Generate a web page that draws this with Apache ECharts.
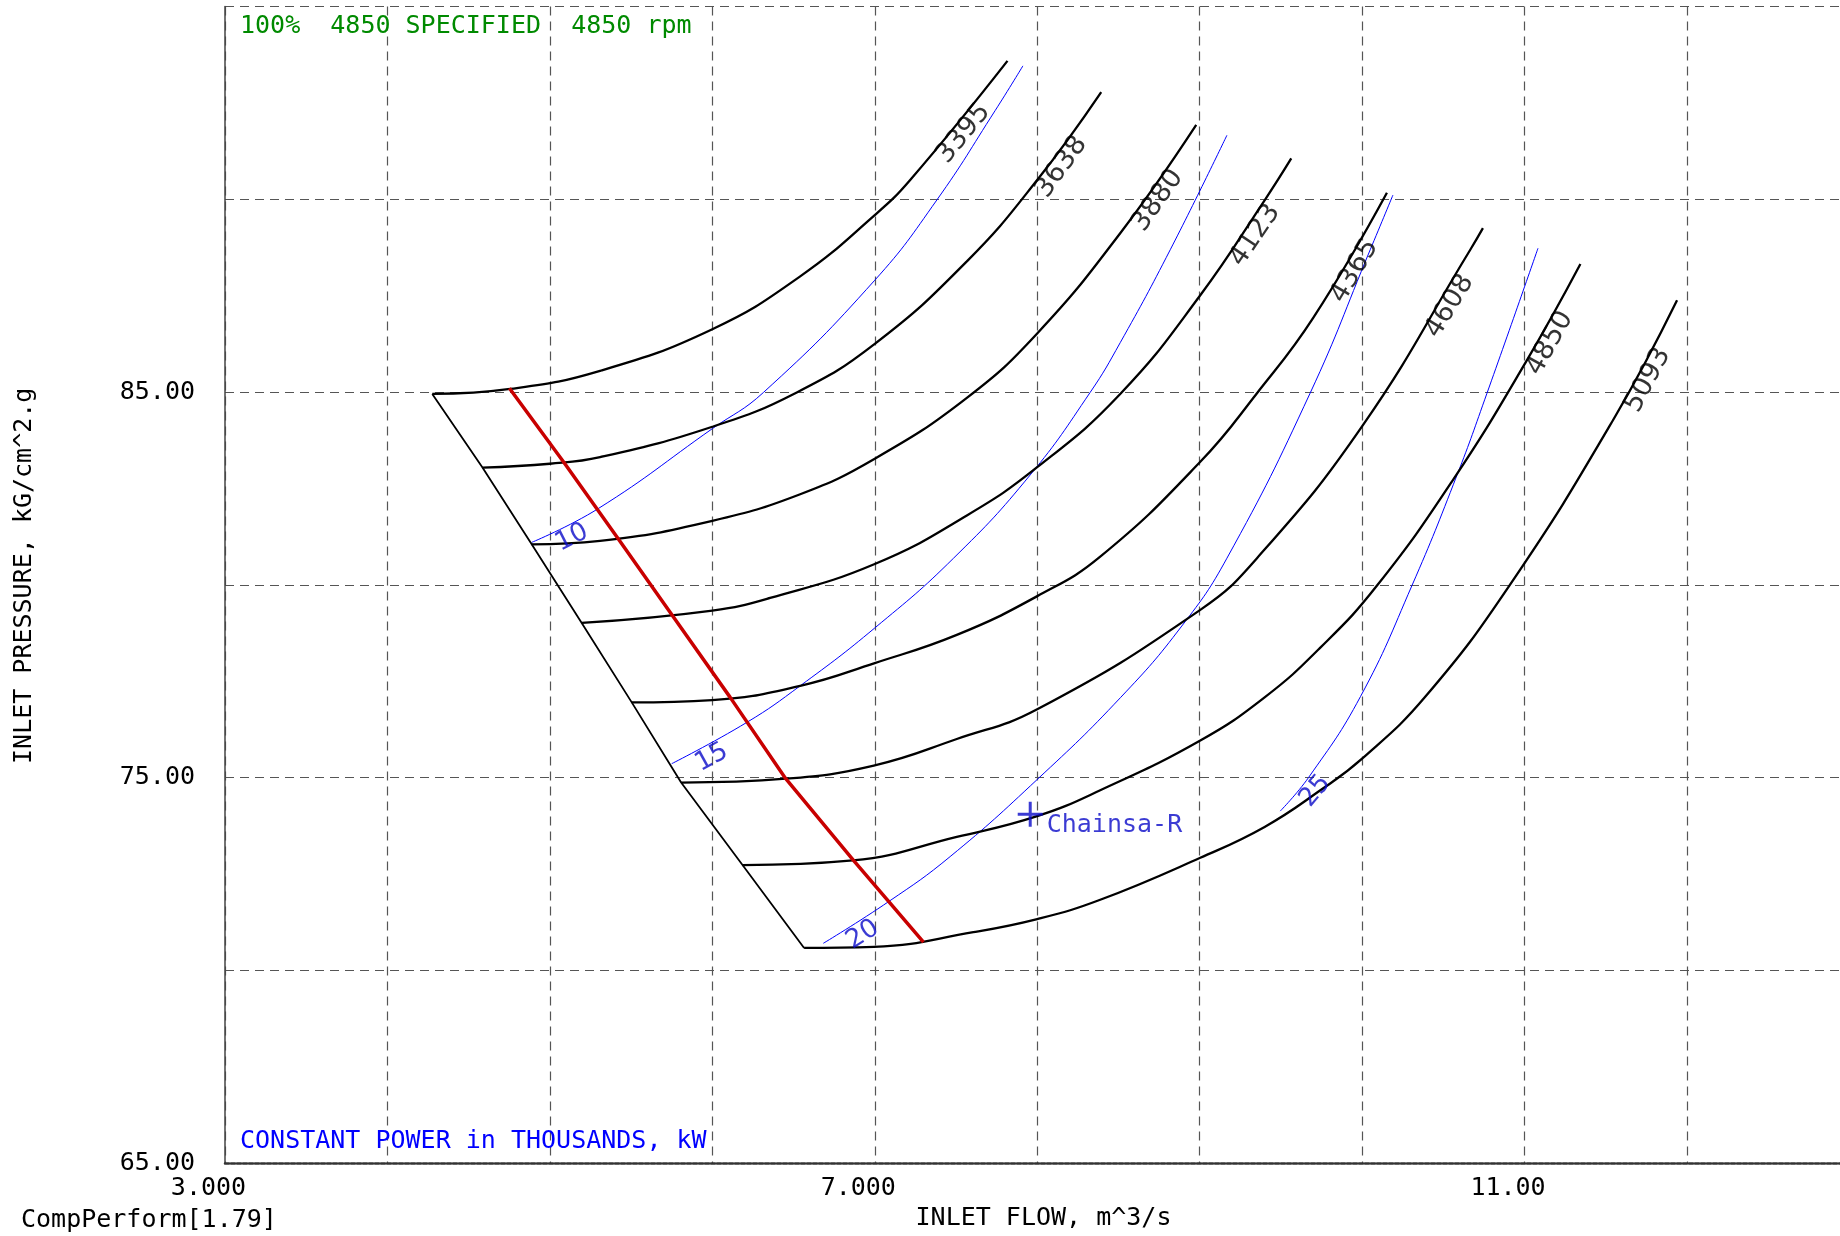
<!DOCTYPE html>
<html>
<head>
<meta charset="utf-8">
<title>CompPerform</title>
<script src="https://cdn.jsdelivr.net/npm/echarts@6/dist/echarts.min.js"></script>
<style>
  html, body { margin: 0; padding: 0; background: #ffffff; }
  #chart { width: 1840px; height: 1236px; }
</style>
</head>
<body>
<div id="chart"></div>
<script>
// Compressor performance map: inlet flow (m^3/s) vs inlet pressure (kG/cm^2.g)

// Constant speed lines (rpm), each as [flow, pressure]
const speedNames = ['3395', '3638', '3880', '4123', '4365', '4608', '4850', '5093'];
const speed3395 = [[4.276,84.95],[4.756,85.08],[5.309,85.55],[6.0,86.63],[6.541,88.0],[7.0,89.59],[7.218,90.5],[7.817,93.59]];
const speed3638 = [[4.585,83.04],[5.0,83.14],[5.309,83.31],[6.0,84.1],[6.52,84.99],[7.0,86.25],[7.567,88.39],[8.0,90.5],[8.394,92.78]];
const speed3880 = [[4.888,81.05],[5.309,81.14],[6.0,81.66],[6.541,82.35],[7.0,83.27],[7.567,84.85],[8.0,86.52],[8.511,89.12],[8.979,91.93]];
const speed4123 = [[5.196,79.01],[6.0,79.33],[6.356,79.66],[7.0,80.54],[7.567,81.8],[8.0,83.05],[8.511,84.95],[9.004,87.51],[9.404,90.0],[9.564,91.06]];
const speed4365 = [[5.504,76.95],[6.0,77.01],[6.541,77.38],[7.0,77.97],[7.505,78.7],[7.998,79.7],[8.388,80.73],[9.004,83.19],[9.353,84.97],[9.7,86.93],[10.153,90.17]];
const speed4608 = [[5.808,74.87],[6.452,74.97],[6.994,75.31],[7.505,76.0],[8.0,76.77],[9.004,79.35],[9.353,80.69],[10.003,84.13],[10.666,88.69],[10.744,89.25]];
const speed4850 = [[6.186,72.73],[6.865,72.85],[7.505,73.46],[8.0,74.0],[8.388,74.67],[9.004,75.96],[9.4,77.08],[9.743,78.37],[10.092,79.98],[10.564,82.75],[11.007,85.77],[11.344,88.32]];
const speed5093 = [[6.565,70.58],[6.994,70.61],[7.607,70.99],[8.0,71.33],[8.388,71.83],[9.004,72.92],[9.4,73.72],[9.743,74.67],[10.0,75.49],[10.39,77.1],[10.91,80.0],[11.549,84.3],[11.939,87.38]];
const speedLines = [speed3395, speed3638, speed3880, speed4123, speed4365, speed4608, speed4850, speed5093];

// Surge limit, joining the low-flow ends of the speed lines
const surgeLine = [[4.276,84.95],[4.585,83.04],[4.888,81.05],[5.196,79.01],[5.504,76.95],[5.808,74.87],[6.186,72.73],[6.565,70.58]];

// Control line (red)
const controlLine = [[4.751,85.1],[5.089,83.16],[5.426,81.16],[5.765,79.14],[6.11,77.08],[6.452,74.97],[6.869,72.85],[7.3,70.73]];

// Constant power lines, thousands of kW
const powerNames = ['10', '15', '20', '25'];
const power10 = [[4.888,81.1],[5.299,81.98],[6.0,84.05],[6.315,84.99],[7.0,87.9],[7.382,89.98],[7.741,92.3],[7.912,93.46]];
const power15 = [[5.75,75.36],[6.212,76.43],[6.541,77.38],[7.0,78.88],[7.485,80.69],[7.957,82.85],[8.326,84.99],[8.511,86.28],[8.819,88.69],[9.168,91.66]];
const power20 = [[6.683,70.7],[7.088,71.79],[7.464,72.95],[8.0,74.95],[8.514,77.08],[8.89,78.93],[9.168,80.69],[9.68,84.97],[10.05,88.69],[10.19,90.11]];
const power25 = [[9.496,74.13],[9.672,75.01],[9.99,77.1],[10.307,79.98],[10.584,82.84],[10.769,84.97],[11.083,88.73]];
const powerLines = [power10, power15, power20, power25];

// Rated operating point
const ratedPoint = [7.957, 74.05];
const ratedName = 'Chainsa-R';

// Labelled ticks
const xTickLabels = [3, 7, 11];
const yTickLabels = [65, 75, 85];

const MONO = '"DejaVu Sans Mono", "Liberation Mono", monospace';
const SANS = '"DejaVu Sans", "Noto Sans", sans-serif';
const BLUE = '#0000ff';
const DARK_BLUE = '#0a0ac8';

const chart = echarts.init(document.getElementById('chart'), null, { renderer: 'canvas' });

const gridDash = { color: '#555555', width: 1.2, type: [9, 6] };

function fmtX(v) {
  return v < 10 ? v.toFixed(3) : v.toFixed(2);
}
function isTick(list, v) {
  return list.some(t => Math.abs(t - v) < 1e-6);
}

const series = [];
speedLines.forEach((pts, i) => {
  series.push({
    name: speedNames[i] + ' rpm', type: 'line', data: pts, smooth: 0.45,
    symbol: 'none', lineStyle: { color: '#000000', width: 2.3 }, z: 3
  });
});
series.push({
  name: 'surge', type: 'line', data: surgeLine, symbol: 'none',
  lineStyle: { color: '#000000', width: 1.8 }, z: 3
});
powerLines.forEach((pts, i) => {
  series.push({
    name: powerNames[i] + ' MW', type: 'line', data: pts, smooth: 0.45,
    symbol: 'none', lineStyle: { color: BLUE, width: 1 }, z: 2
  });
});
series.push({
  name: 'control', type: 'line', data: controlLine, symbol: 'none',
  lineStyle: { color: '#c80000', width: 3.5 }, z: 4
});
series.push({
  name: ratedName, type: 'scatter', data: [ratedPoint],
  symbol: 'path://M11,0 h3 v25 h-3 z M0,11 h25 v3 h-25 z', symbolSize: 25,
  itemStyle: { color: DARK_BLUE },
  label: {
    show: true, position: 'right', distance: 4, offset: [0, 11],
    formatter: ratedName, fontFamily: MONO, fontSize: 25, color: DARK_BLUE
  }, z: 5
});
series.push({
  id: 'speedLabels', type: 'scatter', symbolSize: 0, data: [], silent: true, z: 6,
  label: { show: true, position: 'inside', fontFamily: SANS, fontSize: 27, color: '#000000' }
});
series.push({
  id: 'powerLabels', type: 'scatter', symbolSize: 0, data: [], silent: true, z: 6,
  label: { show: true, position: 'inside', fontFamily: SANS, fontSize: 26, color: DARK_BLUE }
});

// plot spans 162.44 px per unit of flow, clipped by the right edge of the page
const X_MAX = 3 + 1615 / 162.44;

const option = {
  animation: false,
  backgroundColor: '#ffffff',
  grid: { left: 225, top: 6.5, right: 0, height: 1161 },
  xAxis: {
    type: 'value', min: 3, max: X_MAX, interval: 1,
    name: 'INLET FLOW, m^3/s', nameLocation: 'middle', nameGap: 39,
    nameTextStyle: { fontFamily: MONO, fontSize: 25, color: '#000000', padding: [0, 0, 0, 22] },
    axisLine: { show: true, onZero: false, lineStyle: { color: '#333333', width: 2.5, type: [4, 2] } },
    axisTick: { show: false },
    axisLabel: {
      margin: 13, fontFamily: MONO, fontSize: 25, color: '#000000', padding: [0, 33, 0, 0],
      showMaxLabel: false,
      formatter: v => isTick(xTickLabels, v) ? fmtX(v) : ''
    },
    splitLine: { show: true, showMaxLine: false, lineStyle: gridDash }
  },
  yAxis: {
    type: 'value', min: 65, max: 95, interval: 5,
    name: 'INLET PRESSURE, kG/cm^2.g', nameLocation: 'middle', nameGap: 188, nameRotate: 90,
    nameTextStyle: { fontFamily: MONO, fontSize: 25, color: '#000000', padding: [0, 0, 0, 18] },
    axisLine: { show: true, onZero: false, lineStyle: { color: '#444444', width: 1.5 } },
    axisTick: { show: false },
    axisLabel: {
      margin: 30, fontFamily: MONO, fontSize: 25, color: '#000000',
      formatter: v => isTick(yTickLabels, v) ? v.toFixed(2) : ''
    },
    splitLine: { show: true, lineStyle: gridDash }
  },
  graphic: [
    { type: 'text', x: 240, y: 26, z: 10,
      style: { text: '100%  4850 SPECIFIED  4850 rpm', font: '25px ' + MONO, fill: '#008a00', verticalAlign: 'middle' } },
    { type: 'text', x: 240, y: 1141, z: 10,
      style: { text: 'CONSTANT POWER in THOUSANDS, kW', font: '25px ' + MONO, fill: '#0000ff', verticalAlign: 'middle' } },
    { type: 'text', x: 21, y: 1220, z: 10,
      style: { text: 'CompPerform[1.79]', font: '25px ' + MONO, fill: '#000000', verticalAlign: 'middle' } }
  ],
  series: series
};

chart.setOption(option);

// Place rotated line labels along their curves
function toPx(pts) {
  return pts.map(p => chart.convertToPixel({ gridIndex: 0 }, p));
}
function pointAlong(px, dist, fromEnd) {
  const pts = fromEnd ? px.slice().reverse() : px;
  let rem = dist;
  for (let i = 0; i < pts.length - 1; i++) {
    const a = pts[i], b = pts[i + 1];
    const seg = Math.hypot(b[0] - a[0], b[1] - a[1]);
    if (seg >= rem || i === pts.length - 2) {
      const t = Math.min(rem / seg, 1);
      const p = [a[0] + (b[0] - a[0]) * t, a[1] + (b[1] - a[1]) * t];
      let d = [(b[0] - a[0]) / seg, (b[1] - a[1]) / seg];
      if (fromEnd) d = [-d[0], -d[1]];
      return { p, d };
    }
    rem -= seg;
  }
}
function lineLabel(pts, text, dist, fromEnd, off) {
  const r = pointAlong(toPx(pts), dist, fromEnd);
  const down = [-r.d[1], r.d[0]];
  const anchor = [r.p[0] + down[0] * off, r.p[1] + down[1] * off];
  const rot = Math.atan2(-r.d[1], r.d[0]) * 180 / Math.PI;
  return {
    value: chart.convertFromPixel({ gridIndex: 0 }, anchor),
    label: { formatter: text, rotate: rot }
  };
}

const speedLabelData = speedLines.map((pts, i) => lineLabel(pts, speedNames[i], 84, true, 12));
const powerLabelData = powerLines.map((pts, i) => lineLabel(pts, powerNames[i], 38, false, 14));

chart.setOption({
  series: [
    { id: 'speedLabels', data: speedLabelData },
    { id: 'powerLabels', data: powerLabelData }
  ]
});
</script>
</body>
</html>
